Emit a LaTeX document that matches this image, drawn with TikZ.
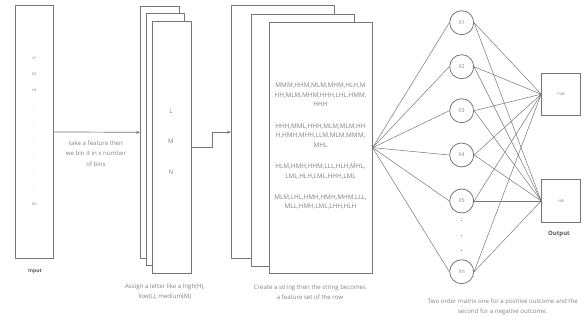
\documentclass[tikz,border=0pt]{standalone}
\usepackage{fontspec}
\setmainfont{Open Sans}
\usetikzlibrary{arrows.meta,backgrounds}
\definecolor{edge}{HTML}{777777}
\definecolor{txt}{HTML}{828282}
\definecolor{dtxt}{HTML}{555555}
\tikzset{
  box/.style={draw=edge, line width=0.9pt, fill=white, anchor=north west, inner sep=0pt},
  neuron/.style={circle, draw=edge, line width=0.8pt, fill=white, minimum size=24pt, inner sep=0pt, font=\fontsize{5.3}{6}\selectfont, text=txt},
  outbox/.style={draw=edge, line width=0.9pt, fill=white, inner sep=0pt, font=\fontsize{4.8}{5}\selectfont, text=txt},
  wire/.style={draw=edge, line width=0.5pt},
  arr/.style={draw=edge, line width=0.7pt, -{Stealth[length=4pt,width=3pt]}},
  small/.style={font=\fontsize{4}{5}\selectfont, text=txt},
  captxt/.style={font=\fontsize{6.1}{10.3}\selectfont, text=txt, align=center},
  seq/.style={font=\fontsize{6.4}{9.5}\selectfont, text=txt, align=center},
  lbl/.style={font=\fontsize{5}{6}\selectfont\bfseries, text=dtxt}
}
\begin{document}
\begin{tikzpicture}[x=1pt,y=-1pt]
\useasboundingbox (0,0) rectangle (584,320);
% input
\node[box, minimum width=37.7pt, minimum height=253pt] (input) at (15.3,5) {};
\foreach \t/\y [count=\i] in {x1/58,X2/74,x3/90,-/108,-/124,-/140,-/156,-/172,-/188,Xn/204}
  \node[small] (in\i) at (34.2,\y) {\t};
\node[lbl] (inputlbl) at (35,271) {Input};
% stack 1
\node[box, minimum width=38.7pt, minimum height=252.3pt] (s1a) at (140,5.7) {};
\node[box, minimum width=38.3pt, minimum height=252.3pt] (s1b) at (146,12.7) {};
\node[box, minimum width=38.7pt, minimum height=251.7pt] (s1c) at (152,21) {};
\node[captxt] (lL) at (171,111) {L};
\node[captxt] (lM) at (171,141) {M};
\node[captxt] (lN) at (171,172) {N};
% stack 2
\node[box, minimum width=103pt, minimum height=252.7pt] (s2a) at (231,5.3) {};
\node[box, minimum width=103pt, minimum height=252pt] (s2b) at (251,14) {};
\node[box, minimum width=103pt, minimum height=251pt] (s2c) at (268.7,21.7) {};
\node[seq] (q1) at (320.5,95) {MMM,HHM,MLM,MHM,HLH,M\\HH,MLM,MHM,HHH,LHL,HMM,\\HHH};
\node[seq] (q2) at (320.5,135.5) {HHH,MML,HHH,MLM,MLM,HH\\H,HMH,MHH,LLM,MLM,MMM,\\MHL};
\node[seq] (q3) at (320.5,171.5) {HLM,HMH,HHM,LLL,HLH,MHL,\\LML,HLH,LML,HHH,LML};
\node[seq] (q4) at (320.5,202) {MLM,LHL,HMH,HMH,MHM,LLL,\\MLL,HMH,LML,LHH,HLH};
% connectors
\draw[arr] (input.east) -- (s1a.west);
\node[captxt] (t1) at (96,153.5) {take a feature then\\we bin it in x number\\of bins};
\draw[arr] (s1c.east) -- ++(20.3,0) |- (s2a.west);
\node[captxt] (t2) at (165,292) {Assign a letter like a high(H),\\low(L), medium(M)};
\node[captxt] (t3) at (310,292) {Create a string then the string becomes\\a feature set of the row};
% neurons
\foreach \n/\t/\y in {n1/X1/22.7,n2/X2/66.7,n3/X3/110.7,n4/X4/155,n5/X5/201,nn/Xn/271.7}
  \node[neuron] (\n) at (461.7,\y) {\t};
\foreach \y [count=\i] in {223,238,252.7}
  \node[font=\fontsize{6}{6}\selectfont\bfseries, text=dtxt] (dot\i) at (461.7,\y-1.5) {.};
\node[outbox, minimum width=38.3pt, minimum height=41.7pt] (pos) at (560.8,94.2) {+ve};
\node[outbox, minimum width=38.3pt, minimum height=43.4pt] (neg) at (560.8,201) {-ve};
\node[lbl, font=\fontsize{6}{7}\selectfont\bfseries] (outlbl) at (559,234) {Output};
\begin{pgfonlayer}{background}
\foreach \n in {n1,n2,n3,n4,n5,nn}{
  \draw[wire] (s2c.east) -- (\n.west);
  \draw[wire] (\n.east) -- (pos.west);
  \draw[wire] (\n.east) -- (neg.west);
}
\end{pgfonlayer}
\node[captxt] (t4) at (502.7,307) {Two order matrix one for a positive outcome and the\\second for a negative outcome.};
\end{tikzpicture}
\end{document}
